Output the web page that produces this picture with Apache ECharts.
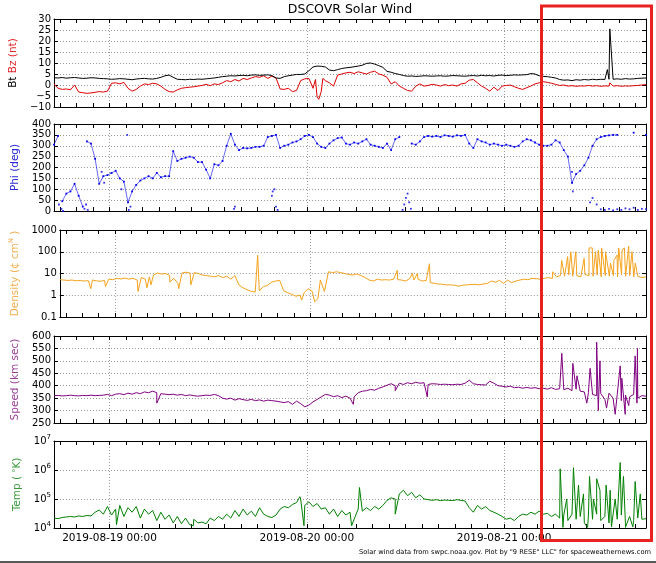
<!DOCTYPE html>
<html>
<head>
<meta charset="utf-8">
<script src="https://cdn.jsdelivr.net/npm/echarts@6/dist/echarts.min.js"></script>
<style>html,body{margin:0;padding:0;background:#fff}#c{width:656px;height:563px}</style>
</head>
<body>
<div id="c"></div>
<script>
// ---- time axis: hours since 2019-08-18 00:00 ----
const START_HOUR = 17.25;   // first sample 2019-08-18 17:15
const STEP_HOURS = 0.5;     // one value every 30 minutes
const dayTicks = [24, 48, 72];
const dayLabels = ['2019-08-19 00:00', '2019-08-20 00:00', '2019-08-21 00:00'];
const hourTicks = [18,20,22,24,26,28,30,32,34,36,38,40,42,44,46,48,50,52,54,56,58,60,62,64,66,68,70,72,74,76,78,80,82,84,86,88];

// ---- Bt / Bz (nT) ----
const btValues = [
 3.3,3.2,3.4,3.1,3.3,3.4,3.2,3.0,3.1,3.3,3.2,3.0,
 2.9,2.8,2.6,2.7,2.9,2.8,2.6,2.4,2.7,2.9,3.0,2.8,
 2.7,3.0,3.5,4.2,4.5,3.5,2.6,2.5,2.4,2.6,2.5,2.7,
 2.6,2.8,3.0,3.2,3.5,3.8,4.0,4.2,4.1,4.3,4.4,4.2,
 4.5,4.6,4.4,4.5,4.6,4.3,3.2,3.0,3.8,4.2,4.5,4.8,
 4.8,5.0,6.5,8.2,8.6,8.5,8.2,6.8,6.5,7.0,7.5,7.8,
 8.0,8.3,8.6,9.0,9.8,10.0,9.5,8.8,8.0,6.2,5.8,5.2,
 4.8,4.3,4.0,4.1,3.9,4.0,4.2,4.1,4.0,4.1,4.2,4.0,
 4.1,4.3,4.2,4.1,4.0,4.2,4.3,4.1,4.4,4.2,4.3,4.1,
 4.4,4.5,4.3,4.4,4.6,4.5,4.6,4.7,5.2,5.0,4.2,3.9,
 3.8,3.5,3.2,2.5,2.2,2.3,2.0,2.4,2.2,2.5,2.3,2.6,
 2.4,2.6,2.5,2.6,2.6,2.8,2.6,2.9,2.7,2.8,3.0,3.1,
 3.2];
const btSpikes = [[67.3, 7.0], [67.6, 25.5]];
const bzValues = [
 0.5,-1.5,-2.0,-1.8,-2.2,0.0,-3.2,-3.5,-3.8,-3.6,-3.3,-3.0,
 -3.2,-2.8,0.8,1.0,0.5,1.2,-1.5,-2.8,-2.0,-0.5,0.5,0.2,
 0.8,0.5,-0.5,-2.0,-3.0,-3.2,-2.2,-1.5,-1.2,-1.0,-0.8,-0.5,
 -0.2,0.3,-0.3,0.5,0.2,1.0,2.0,1.5,2.5,1.8,3.0,2.5,
 3.2,3.8,3.5,4.2,3.0,4.0,3.2,-1.8,-2.0,-1.5,-3.0,-2.5,
 2.0,2.8,3.0,-1.5,-5.5,-3.0,2.0,1.0,-0.5,4.5,5.0,5.5,
 5.8,5.2,6.0,5.5,5.0,5.8,6.3,5.0,4.5,3.5,0.5,1.5,
 -0.5,-1.5,-2.5,-2.8,-0.5,0.5,-0.5,-0.2,0.3,0.0,-0.5,0.2,
 -0.3,0.0,-0.5,0.5,0.8,2.2,2.5,1.0,-0.5,-1.5,-2.8,-1.0,
 -2.5,-0.5,-0.2,0.0,-0.8,-1.5,-2.0,-1.2,-0.5,0.5,1.0,1.5,
 1.2,0.8,0.3,-0.2,0.0,-0.5,-0.3,-0.6,-0.4,-0.5,-0.2,-0.5,
 -0.3,-0.6,-0.4,-0.5,-0.5,-0.3,-0.6,-0.4,-0.5,-0.3,-0.2,0.0,
 0.2];
const bzSpikes = [[31.8, 2.5], [32.2, -6.5], [32.7, 3.0], [67.6, 1.0]];

// ---- Phi (deg) ----
const phiValues = [
 305,345,45,80,90,125,70,20,320,310,240,125,
 160,165,175,185,150,135,40,90,120,140,150,160,
 150,175,155,160,160,275,230,240,245,250,245,225,
 225,190,150,215,210,230,300,355,305,280,290,288,
 290,295,295,300,340,345,350,290,300,305,315,320,
 330,345,350,340,310,295,290,310,325,335,338,310,
 305,315,310,320,330,305,300,295,290,310,280,330,
 340,null,null,310,305,320,340,345,342,345,340,348,
 345,342,348,345,350,310,290,330,320,315,305,310,
 305,300,305,300,295,300,320,330,325,315,305,300,
 300,305,325,315,280,250,130,170,185,210,245,300,
 330,340,345,348,350,350,null,null,null,360,null,null,
 350];
const phiExtraPoints = [
 [0.6,30],[0.9,10],[1.1,0],[3.7,10],[3.9,30],[4.1,5],[5.8,180],[6.1,130],[8.2,100],
 [8.9,350],[9.1,5],[9.3,20],[21.9,10],[22.0,20],[26.5,70],[26.6,90],[26.8,100],[27.0,20],[27.2,5],
 [42.4,5],[42.6,30],[42.8,60],[43.0,80],[43.2,40],[43.4,10],[63.0,180],[63.1,90],
 [65.2,40],[65.5,60],[66.0,30],[66.5,8],[67.0,5],[67.5,10],[68.0,3],[68.5,8],[69.0,5],
 [69.5,12],[70.0,8],[70.5,15],[71.0,5],[71.5,10],[72.0,8]];

// ---- Density ----
const densityValues = [
 5.2,5.0,4.8,5.0,4.6,4.8,4.5,4.7,5.0,4.6,4.4,4.8,
 5.5,5.2,6.0,5.6,6.2,5.5,6.0,5.0,6.5,5.5,7.0,8.5,
 10.5,9.5,10,8.0,6.0,3.5,10.5,11.5,10.5,11.0,10.0,8.5,
 8.0,7.5,7.0,8.0,6.5,7.5,5.5,8.0,3.0,2.2,1.8,1.5,
 1.4,1.6,2.5,2.8,4.0,4.5,4.8,1.6,1.3,1.1,0.9,1.0,
 1.3,2.0,1.5,0.6,5.0,1.5,12.0,11.0,12.0,11.0,10.0,9.0,
 8.5,9.5,8.0,6.5,5.0,4.5,5.5,5.0,5.2,5.0,5.5,5.2,
 5.0,4.5,6.0,5.0,5.5,4.5,4.8,3.8,3.5,3.3,3.2,3.0,
 3.0,2.9,2.6,2.9,3.0,3.1,3.2,3.0,3.3,3.5,4.5,4.0,
 4.8,3.5,5.0,3.8,4.5,5.0,5.5,5.2,6.0,5.8,5.5,6.0,
 6.5,6.0,7.0,8.0,7.5,8.5,7.5,8.0,7.0,9.0,8.0,7.5,
 8.5,7.0,8.0,7.5,8.0,7.0,8.5,7.5,8.0,7.0,7.5,6.5,
 7.0];
const densitySpikes = [
 [3.8,2.0],[5.6,2.5],[9.6,1.5],[10.7,2.2],[11.2,3.0],[13.5,4.0],[14.6,2.0],[16.1,3.0],
 [24.3,70],[29.7,0.6],[31.3,0.5],[31.7,0.7],[41.45,14],[43.3,10],[43.9,10],[45.4,28],
 [60.54,12],[61.64,40],[62.37,60],[62.77,100],[63.38,100],[64.4,50],[65.0,150],[65.4,150],
 [65.8,100],[66.14,120],[66.55,150],[67.03,100],[67.64,30],[68.05,40],[68.45,70],[68.65,150],
 [69.06,120],[69.34,150],[69.87,180],[70.28,100],[70.68,30]];

// ---- Speed (km/s) ----
const speedValues = [
 360,361,359,360,362,360,359,361,360,362,360,361,
 362,365,360,366,368,364,370,366,372,368,375,372,
 378,372,368,366,364,366,362,365,360,363,360,358,
 360,362,361,365,360,350,346,350,342,348,344,341,
 345,340,343,338,342,340,338,335,332,336,325,338,
 328,315,322,335,345,355,365,362,356,360,352,358,
 350,355,372,378,380,385,382,390,395,402,408,400,
 410,405,412,408,414,410,412,405,408,407,405,406,
 405,404,406,405,410,422,408,405,404,403,418,410,
 400,398,395,398,392,394,390,393,390,392,388,390,
 386,392,385,388,384,390,380,386,378,375,372,365,
 360,368,345,370,350,365,340,362,355,365,350,360,
 358];
const speedSpikes = [
 [12.5,330],[36.4,325],[41.5,380],[45.4,355],[61.76,530],[63.1,490],[63.6,440],[64.8,330],
 [65.2,470],[66.0,575],[66.2,300],[66.4,500],[67.2,310],[68.25,285],[68.86,480],[69.06,430],
 [69.47,285],[69.9,320],[70.68,520],[70.9,330],[70.96,550]];

// ---- Temperature (K) ----
const tempValues = [
 22000,21000,23000,24000,25000,24000,26000,25000,27000,26000,35000,42000,
 30000,55000,28000,45000,60000,25000,50000,35000,55000,22000,45000,30000,
 40000,18000,35000,20000,28000,15000,25000,14000,22000,13000,20000,15000,
 16000,14000,22000,18000,25000,20000,30000,22000,40000,25000,45000,28000,
 38000,25000,50000,30000,25000,23000,28000,45000,55000,50000,65000,75000,
 100000,60000,80000,55000,70000,45000,50000,30000,45000,25000,40000,28000,
 35000,20000,45000,38000,50000,40000,55000,45000,60000,90000,110000,100000,
 150000,200000,130000,170000,110000,140000,100000,95000,90000,95000,88000,92000,
 90000,88000,95000,90000,85000,50000,35000,60000,45000,55000,40000,35000,
 30000,25000,20000,22000,18000,25000,30000,28000,35000,30000,38000,30000,
 32000,25000,30000,22000,28000,18000,30000,20000,25000,15000,28000,20000,
 30000,18000,25000,15000,30000,20000,28000,14000,25000,18000,22000,20000,
 21000];
const tempSpikes = [
 [7.6,13000],[16.95,12000],[18.6,12000],[29.9,120000],[30.4,12000],[36.2,12000],[37.15,250000],
 [41.5,30000],[61.56,1100000],[61.9,10500],[62.36,100000],[63.18,1200000],[63.79,300000],
 [64.4,150000],[64.9,10500],[65.13,600000],[65.6,100000],[66.0,500000],[66.4,200000],
 [67.15,300000],[67.64,200000],[67.8,11000],[68.25,100000],[68.86,1800000],[69.26,600000],
 [69.5,10500],[70.4,11000],[70.68,400000],[71.3,150000]];

// ---- build ----
const FONT = 'DejaVu Sans';
const X_MIN = START_HOUR, X_MAX = START_HOUR + 72;

function toSeries(values, spikes) {
  const pts = values.map((v, i) => [START_HOUR + i * STEP_HOURS, v]);
  (spikes || []).forEach(s => pts.push([START_HOUR + s[0], s[1]]));
  pts.sort((a, b) => a[0] - b[0]);
  return pts;
}
function breakWraps(pts) {
  const out = [];
  for (let i = 0; i < pts.length; i++) {
    if (i > 0 && pts[i][1] != null && pts[i - 1][1] != null && Math.abs(pts[i][1] - pts[i - 1][1]) > 180) {
      out.push([(pts[i][0] + pts[i - 1][0]) / 2, null]);
    }
    out.push(pts[i]);
  }
  return out;
}

const panels = [
  {top: 19, height: 88}, {top: 124, height: 87}, {top: 230, height: 87},
  {top: 336, height: 87}, {top: 441, height: 87}
];
const grid = panels.map(p => ({left: 54, right: 10, top: p.top, height: p.height}));

const frameLine = {show: true, onZero: false, lineStyle: {color: '#000', width: 1}};
const tickIn = {show: true, inside: true, length: 4, lineStyle: {color: '#000', width: 1}};
const dotted = {show: true, lineStyle: {type: [1, 2], color: '#9a9a9a', width: 1}};

const xAxis = [];
panels.forEach((p, g) => {
  const base = {gridIndex: g, type: 'value', min: X_MIN, max: X_MAX};
  xAxis.push(Object.assign({}, base, {
    position: 'bottom', axisLine: frameLine,
    axisTick: Object.assign({}, tickIn, {customValues: hourTicks}),
    axisLabel: {show: g === 4, customValues: dayTicks,
      formatter: v => { const k = dayTicks.indexOf(Math.round(v)); return k >= 0 ? dayLabels[k] : ''; },
      fontFamily: FONT, fontSize: 10.5, color: '#000', margin: 5},
    splitLine: {show: false}
  }));
  xAxis.push(Object.assign({}, base, {
    position: 'top', axisLine: frameLine,
    axisTick: Object.assign({}, tickIn, {customValues: hourTicks}),
    axisLabel: {show: false}, splitLine: {show: false}
  }));
  xAxis.push(Object.assign({}, base, {
    position: 'bottom', axisLine: {show: false},
    axisTick: {show: false, customValues: dayTicks},
    axisLabel: {show: false}, splitLine: dotted
  }));
});

const supRich = {
  b: {fontFamily: FONT, fontSize: 10, color: '#000', lineHeight: 14},
  sup: {fontFamily: FONT, fontSize: 7, color: '#000', verticalAlign: 'top', lineHeight: 14, padding: [0, 0, 4, 0]}
};
const minusFmt = v => v < 0 ? '\u2212' + Math.abs(v) : String(v);
const yCfg = [
  {type: 'value', min: -10, max: 30, interval: 5, fmt: minusFmt,
   name: '{k|Bt }{r|Bz (nt)}', gap: 27,
   rich: {k: {color: '#000', fontFamily: FONT, fontSize: 10.5}, r: {color: '#e3262b', fontFamily: FONT, fontSize: 10.5}}},
  {type: 'value', min: 0, max: 400, interval: 50, fmt: v => String(v),
   name: '{p|Phi (deg)}', gap: 29,
   rich: {p: {color: '#2a2ad6', fontFamily: FONT, fontSize: 10.5}}},
  {type: 'log', min: 0.1, max: 1000, fmt: v => v < 1 ? '0.1' : String(Math.round(v)),
   name: '{a|Density (\u00a2 cm}{s|N}{a| )}', gap: 36,
   rich: {a: {color: '#f2b04e', fontFamily: FONT, fontSize: 10.5, lineHeight: 14},
          s: {color: '#f2b04e', fontFamily: FONT, fontSize: 6.5, verticalAlign: 'top', lineHeight: 14, padding: [0, 0, 4, 0]}}},
  {type: 'value', min: 250, max: 600, interval: 50, fmt: v => String(v),
   name: '{p|Speed (km sec)}', gap: 28,
   rich: {p: {color: '#9b3d9b', fontFamily: FONT, fontSize: 10.5}}},
  {type: 'log', min: 10000, max: 10000000, fmt: v => '{b|10}{sup|' + Math.round(Math.log10(v)) + '}',
   name: '{a|Temp ( }{s|\u00b0}{a|K)}', gap: 30,
   rich: {a: {color: '#3a9a3a', fontFamily: FONT, fontSize: 10.5, lineHeight: 14},
          s: {color: '#3a9a3a', fontFamily: FONT, fontSize: 8, lineHeight: 14}}}
];

const yAxis = [];
yCfg.forEach((c, g) => {
  const base = {gridIndex: g, type: c.type, min: c.min, max: c.max};
  if (c.interval) base.interval = c.interval;
  if (c.type === 'log') base.logBase = 10;
  yAxis.push(Object.assign({}, base, {
    position: 'left', axisLine: frameLine, axisTick: tickIn,
    axisLabel: {formatter: c.fmt, fontFamily: FONT, fontSize: 10, color: '#000', margin: 3, rich: supRich,
                showMinLabel: true, showMaxLabel: true},
    splitLine: dotted,
    name: c.name, nameLocation: 'middle', nameGap: c.gap,
    nameTextStyle: {fontFamily: FONT, fontSize: 10.5, rich: c.rich}
  }));
  yAxis.push(Object.assign({}, base, {
    position: 'right', axisLine: frameLine, axisTick: tickIn,
    axisLabel: {show: false}, splitLine: {show: false}
  }));
});

function lineSeries(g, data, color, width) {
  return {type: 'line', xAxisIndex: g * 3, yAxisIndex: g * 2, data: data, showSymbol: false,
          lineStyle: {color: color, width: width || 1}, itemStyle: {color: color},
          silent: true, animation: false, connectNulls: false};
}

const series = [
  lineSeries(0, toSeries(bzValues, bzSpikes), '#e00000'),
  lineSeries(0, toSeries(btValues, btSpikes), '#000000'),
  Object.assign(lineSeries(1, breakWraps(toSeries(phiValues)), '#0000ee', 0.6),
    {showSymbol: true, showAllSymbol: true, symbol: 'rect', symbolSize: 1.8}),
  {type: 'scatter', xAxisIndex: 3, yAxisIndex: 2, symbol: 'rect', symbolSize: 1.8,
   data: phiExtraPoints.map(p => [START_HOUR + p[0], p[1]]), itemStyle: {color: '#0000ee'}, silent: true, animation: false},
  lineSeries(2, toSeries(densityValues, densitySpikes), '#f5a21b'),
  lineSeries(3, toSeries(speedValues, speedSpikes), '#800080'),
  lineSeries(4, toSeries(tempValues, tempSpikes), '#008000')
];

const graphic = [
  {type: 'text', x: 350, y: 10, z: 10,
   style: {text: 'DSCOVR Solar Wind', font: '12.5px "DejaVu Sans"', fill: '#000', textAlign: 'center', textVerticalAlign: 'middle'}},
  {type: 'text', x: 651, y: 552, z: 10,
   style: {text: 'Solar wind data from swpc.noaa.gov. Plot by "9 RESE" LLC" for spaceweathernews.com',
           font: '6.7px "DejaVu Sans"', fill: '#000', textAlign: 'right', textVerticalAlign: 'middle'}},
  {type: 'rect', z: 20, shape: {x: 541.5, y: 6, width: 110, height: 534.5},
   style: {fill: 'none', stroke: '#e8221f', lineWidth: 3}},
  {type: 'line', z: 20, shape: {x1: 0, y1: 562, x2: 656, y2: 562}, style: {stroke: '#222', lineWidth: 1.5}}
];

const chart = echarts.init(document.getElementById('c'), null, {renderer: 'canvas'});
chart.setOption({
  animation: false,
  backgroundColor: '#fff',
  textStyle: {fontFamily: FONT},
  grid: grid, xAxis: xAxis, yAxis: yAxis, series: series, graphic: graphic
});
</script>
</body>
</html>
